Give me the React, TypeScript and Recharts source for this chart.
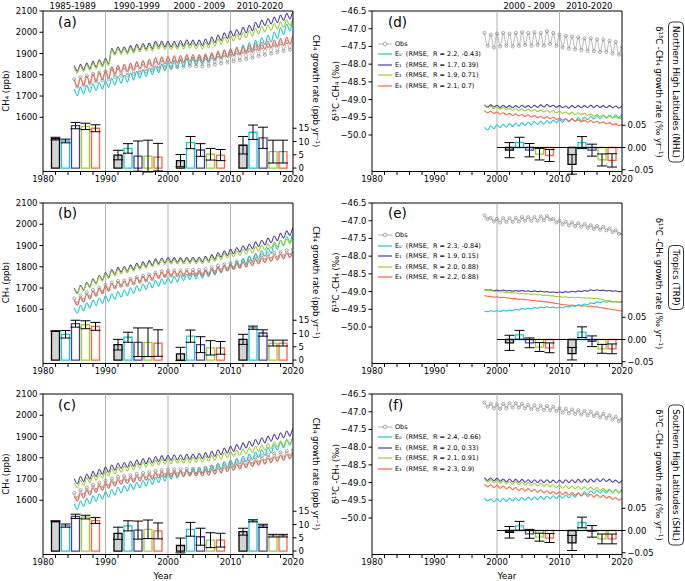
import React from 'react';
import { ComposedChart, Line, Bar, Cell, ErrorBar, XAxis, YAxis, ReferenceLine, Legend } from 'recharts';

const FONT = 'DejaVu Sans, sans-serif';
const COLORS = ['#9b9b9b', '#1fc7cf', '#4b3d9c', '#9acd32', '#ff6347'];
const KEYS = ['obs', 'e0', 'e1', 'e2', 'e3'];

// time axes (peak at t, trough at t + 0.5)
const ch4Years = [1985, 1986, 1987, 1988, 1989, 1990, 1991, 1992, 1993, 1994, 1995, 1996, 1997, 1998, 1999, 2000, 2001, 2002, 2003, 2004, 2005, 2006, 2007, 2008, 2009, 2010, 2011, 2012, 2013, 2014, 2015, 2016, 2017, 2018, 2019, 2020];
const d13Years = [1998, 1999, 2000, 2001, 2002, 2003, 2004, 2005, 2006, 2007, 2008, 2009, 2010, 2011, 2012, 2013, 2014, 2015, 2016, 2017, 2018, 2019, 2020];
const xTicks = [1980, 1982, 1984, 1986, 1988, 1990, 1992, 1994, 1996, 1998, 2000, 2002, 2004, 2006, 2008, 2010, 2012, 2014, 2016, 2018, 2020];
const ch4Ticks = [1600, 1700, 1800, 1900, 2000, 2100];
const rateTicks = [0, 5, 10, 15];
const d13Ticks = [-50.0, -49.5, -49.0, -48.5, -48.0, -47.5, -47.0, -46.5];
const d13RateTicks = [-0.05, 0, 0.05];

// (a) NHL CH4, ppb
const aObsHi = [1780, 1788, 1796, 1804, 1810, 1816, 1826, 1832, 1834, 1840, 1846, 1852, 1858, 1866, 1870, 1870, 1872, 1874, 1878, 1876, 1876, 1878, 1884, 1890, 1894, 1900, 1904, 1910, 1916, 1924, 1930, 1936, 1942, 1948, 1954, 1958];
const aObsLo = [1744, 1752, 1760, 1768, 1774, 1780, 1790, 1796, 1798, 1804, 1810, 1816, 1822, 1830, 1834, 1834, 1836, 1838, 1842, 1840, 1840, 1842, 1848, 1854, 1858, 1864, 1868, 1874, 1880, 1888, 1894, 1900, 1906, 1912, 1918, 1922];
const aE0Hi = [1734, 1742, 1750, 1758, 1764, 1772, 1784, 1792, 1798, 1808, 1816, 1824, 1832, 1842, 1850, 1858, 1864, 1870, 1876, 1880, 1884, 1890, 1898, 1906, 1914, 1922, 1930, 1940, 1950, 1962, 1974, 1986, 2001, 2021, 2038, 2056];
const aE0Lo = [1702, 1710, 1718, 1726, 1732, 1740, 1752, 1760, 1766, 1776, 1784, 1792, 1800, 1810, 1818, 1826, 1832, 1838, 1844, 1848, 1852, 1858, 1866, 1874, 1882, 1890, 1898, 1908, 1918, 1930, 1942, 1954, 1969, 1989, 2006, 2024];
const aE1Hi = [1843, 1849, 1855, 1863, 1871, 1877, 1925, 1931, 1931, 1937, 1943, 1947, 1949, 1957, 1957, 1957, 1957, 1961, 1965, 1963, 1963, 1968, 1977, 1987, 1997, 2007, 2013, 2023, 2033, 2047, 2057, 2065, 2071, 2081, 2089, 2095];
const aE1Lo = [1817, 1823, 1829, 1837, 1845, 1851, 1899, 1905, 1905, 1911, 1917, 1921, 1923, 1931, 1931, 1931, 1931, 1935, 1939, 1937, 1937, 1942, 1951, 1961, 1971, 1981, 1987, 1997, 2007, 2021, 2031, 2039, 2045, 2055, 2063, 2069];
const aE2Hi = [1835, 1841, 1847, 1855, 1863, 1869, 1918, 1923, 1923, 1928, 1933, 1937, 1939, 1946, 1946, 1945, 1945, 1948, 1951, 1949, 1948, 1953, 1961, 1969, 1977, 1985, 1991, 1999, 2008, 2019, 2027, 2035, 2041, 2049, 2057, 2063];
const aE2Lo = [1809, 1815, 1821, 1829, 1837, 1843, 1892, 1897, 1897, 1902, 1907, 1911, 1913, 1920, 1920, 1919, 1919, 1922, 1925, 1923, 1922, 1927, 1935, 1943, 1951, 1959, 1965, 1973, 1982, 1993, 2001, 2009, 2015, 2023, 2031, 2037];
const aE3Hi = [1777, 1785, 1793, 1803, 1811, 1819, 1837, 1845, 1849, 1855, 1862, 1867, 1873, 1881, 1885, 1887, 1889, 1891, 1895, 1895, 1895, 1899, 1905, 1912, 1917, 1922, 1927, 1933, 1939, 1947, 1953, 1959, 1965, 1971, 1977, 1983];
const aE3Lo = [1743, 1751, 1759, 1769, 1777, 1785, 1803, 1811, 1815, 1821, 1828, 1833, 1839, 1847, 1851, 1853, 1855, 1857, 1861, 1861, 1861, 1865, 1871, 1878, 1883, 1888, 1893, 1899, 1905, 1913, 1919, 1925, 1931, 1937, 1943, 1949];

// (b) Tropics CH4, ppb
const bObsHi = [1651, 1665, 1679, 1691, 1703, 1715, 1725, 1733, 1735, 1743, 1751, 1757, 1763, 1773, 1779, 1781, 1783, 1783, 1785, 1785, 1785, 1789, 1797, 1805, 1811, 1817, 1823, 1829, 1837, 1847, 1853, 1859, 1865, 1871, 1877, 1883];
const bObsLo = [1629, 1643, 1657, 1669, 1681, 1693, 1703, 1711, 1713, 1721, 1729, 1735, 1741, 1751, 1757, 1759, 1761, 1761, 1763, 1763, 1763, 1767, 1775, 1783, 1789, 1795, 1801, 1807, 1815, 1825, 1831, 1837, 1843, 1849, 1855, 1861];
const bE0Hi = [1608, 1619, 1631, 1643, 1653, 1663, 1673, 1683, 1691, 1701, 1711, 1719, 1727, 1735, 1743, 1749, 1755, 1761, 1765, 1769, 1773, 1779, 1787, 1797, 1807, 1817, 1827, 1839, 1851, 1863, 1875, 1889, 1908, 1925, 1941, 1955];
const bE0Lo = [1582, 1593, 1605, 1617, 1627, 1637, 1647, 1657, 1665, 1675, 1685, 1693, 1701, 1709, 1717, 1723, 1729, 1735, 1739, 1743, 1747, 1753, 1761, 1771, 1781, 1791, 1801, 1813, 1825, 1837, 1849, 1863, 1882, 1899, 1915, 1929];
const bE1Hi = [1699, 1713, 1727, 1743, 1759, 1773, 1787, 1797, 1801, 1809, 1817, 1823, 1829, 1837, 1841, 1843, 1843, 1843, 1845, 1845, 1845, 1849, 1857, 1867, 1875, 1883, 1891, 1899, 1907, 1917, 1925, 1935, 1945, 1957, 1969, 1983];
const bE1Lo = [1677, 1691, 1705, 1721, 1737, 1751, 1765, 1775, 1779, 1787, 1795, 1801, 1807, 1815, 1819, 1821, 1821, 1821, 1823, 1823, 1823, 1827, 1835, 1845, 1853, 1861, 1869, 1877, 1885, 1895, 1903, 1913, 1923, 1935, 1947, 1961];
const bE2Hi = [1695, 1709, 1723, 1739, 1755, 1767, 1779, 1789, 1793, 1801, 1809, 1815, 1821, 1829, 1833, 1835, 1835, 1835, 1837, 1837, 1837, 1841, 1847, 1855, 1863, 1869, 1875, 1881, 1887, 1895, 1901, 1909, 1917, 1925, 1931, 1937];
const bE2Lo = [1673, 1687, 1701, 1717, 1733, 1745, 1757, 1767, 1771, 1779, 1787, 1793, 1799, 1807, 1811, 1813, 1813, 1813, 1815, 1815, 1815, 1819, 1825, 1833, 1841, 1847, 1853, 1859, 1865, 1873, 1879, 1887, 1895, 1903, 1909, 1915];
const bE3Hi = [1641, 1656, 1671, 1685, 1697, 1709, 1721, 1729, 1733, 1741, 1749, 1755, 1761, 1769, 1775, 1777, 1779, 1779, 1781, 1781, 1781, 1785, 1791, 1797, 1803, 1809, 1815, 1821, 1827, 1835, 1841, 1847, 1853, 1859, 1865, 1871];
const bE3Lo = [1619, 1634, 1649, 1663, 1675, 1687, 1699, 1707, 1711, 1719, 1727, 1733, 1739, 1747, 1753, 1755, 1757, 1757, 1759, 1759, 1759, 1763, 1769, 1775, 1781, 1787, 1793, 1799, 1805, 1813, 1819, 1825, 1831, 1837, 1843, 1849];

// (c) SHL CH4, ppb
const cObsHi = [1634, 1648, 1660, 1672, 1682, 1692, 1702, 1710, 1714, 1718, 1724, 1728, 1732, 1738, 1742, 1744, 1746, 1746, 1748, 1748, 1748, 1752, 1758, 1764, 1770, 1776, 1782, 1788, 1794, 1802, 1808, 1814, 1820, 1826, 1832, 1838];
const cObsLo = [1610, 1624, 1636, 1648, 1658, 1668, 1678, 1686, 1690, 1694, 1700, 1704, 1708, 1714, 1718, 1720, 1722, 1722, 1724, 1724, 1724, 1728, 1734, 1740, 1746, 1752, 1758, 1764, 1770, 1778, 1784, 1790, 1796, 1802, 1808, 1814];
const cE0Hi = [1583, 1597, 1609, 1621, 1631, 1641, 1651, 1661, 1669, 1677, 1685, 1693, 1701, 1709, 1717, 1725, 1731, 1737, 1743, 1749, 1753, 1759, 1765, 1773, 1781, 1789, 1797, 1807, 1817, 1827, 1837, 1849, 1861, 1873, 1885, 1899];
const cE0Lo = [1557, 1571, 1583, 1595, 1605, 1615, 1625, 1635, 1643, 1651, 1659, 1667, 1675, 1683, 1691, 1699, 1705, 1711, 1717, 1723, 1727, 1733, 1739, 1747, 1755, 1763, 1771, 1781, 1791, 1801, 1811, 1823, 1835, 1847, 1859, 1873];
const cE1Hi = [1702, 1712, 1724, 1736, 1746, 1756, 1766, 1774, 1778, 1784, 1790, 1796, 1800, 1806, 1810, 1812, 1814, 1814, 1816, 1818, 1820, 1824, 1830, 1838, 1846, 1854, 1862, 1870, 1878, 1886, 1894, 1902, 1910, 1918, 1926, 1936];
const cE1Lo = [1678, 1688, 1700, 1712, 1722, 1732, 1742, 1750, 1754, 1760, 1766, 1772, 1776, 1782, 1786, 1788, 1790, 1790, 1792, 1794, 1796, 1800, 1806, 1814, 1822, 1830, 1838, 1846, 1854, 1862, 1870, 1878, 1886, 1894, 1902, 1912];
const cE2Hi = [1682, 1694, 1706, 1718, 1728, 1738, 1748, 1756, 1762, 1768, 1774, 1780, 1784, 1790, 1794, 1796, 1798, 1798, 1800, 1802, 1804, 1808, 1812, 1818, 1824, 1830, 1836, 1842, 1848, 1854, 1860, 1867, 1874, 1880, 1886, 1894];
const cE2Lo = [1658, 1670, 1682, 1694, 1704, 1714, 1724, 1732, 1738, 1744, 1750, 1756, 1760, 1766, 1770, 1772, 1774, 1774, 1776, 1778, 1780, 1784, 1788, 1794, 1800, 1806, 1812, 1818, 1824, 1830, 1836, 1843, 1850, 1856, 1862, 1870];
const cE3Hi = [1620, 1634, 1648, 1660, 1670, 1680, 1690, 1698, 1702, 1708, 1714, 1718, 1722, 1728, 1732, 1734, 1736, 1736, 1738, 1738, 1738, 1742, 1746, 1752, 1758, 1764, 1770, 1776, 1782, 1788, 1794, 1800, 1806, 1812, 1818, 1824];
const cE3Lo = [1596, 1610, 1624, 1636, 1646, 1656, 1666, 1674, 1678, 1684, 1690, 1694, 1698, 1704, 1708, 1710, 1712, 1712, 1714, 1714, 1714, 1718, 1722, 1728, 1734, 1740, 1746, 1752, 1758, 1764, 1770, 1776, 1782, 1788, 1794, 1800];

// (d) NHL d13C-CH4, permil
const dObsHi = [-47.12, -47.17, -47.14, -47.12, -47.14, -47.12, -47.10, -47.12, -47.10, -47.12, -47.07, -47.12, -47.17, -47.20, -47.22, -47.24, -47.27, -47.27, -47.30, -47.30, -47.34, -47.37, -47.52];
const dObsLo = [-47.48, -47.53, -47.50, -47.48, -47.50, -47.48, -47.46, -47.48, -47.46, -47.48, -47.43, -47.48, -47.53, -47.56, -47.58, -47.60, -47.63, -47.63, -47.66, -47.66, -47.70, -47.73, -47.88];
const dE0Hi = [-49.78, -49.74, -49.71, -49.70, -49.68, -49.67, -49.65, -49.64, -49.62, -49.61, -49.59, -49.58, -49.56, -49.55, -49.53, -49.51, -49.49, -49.47, -49.46, -49.44, -49.44, -49.43, -49.42];
const dE0Lo = [-49.86, -49.82, -49.79, -49.78, -49.76, -49.75, -49.73, -49.72, -49.70, -49.69, -49.67, -49.66, -49.64, -49.63, -49.61, -49.59, -49.57, -49.55, -49.54, -49.52, -49.52, -49.51, -49.50];
const dE1Hi = [-49.15, -49.15, -49.16, -49.16, -49.17, -49.17, -49.16, -49.17, -49.16, -49.15, -49.14, -49.16, -49.17, -49.18, -49.17, -49.17, -49.17, -49.16, -49.16, -49.17, -49.17, -49.18, -49.19];
const dE1Lo = [-49.21, -49.21, -49.22, -49.22, -49.23, -49.23, -49.22, -49.23, -49.22, -49.21, -49.20, -49.22, -49.23, -49.24, -49.23, -49.23, -49.23, -49.22, -49.22, -49.23, -49.23, -49.24, -49.25];
const dE2Hi = [-49.17, -49.19, -49.21, -49.22, -49.24, -49.25, -49.26, -49.27, -49.28, -49.29, -49.30, -49.31, -49.33, -49.35, -49.36, -49.37, -49.39, -49.41, -49.42, -49.44, -49.46, -49.48, -49.51];
const dE2Lo = [-49.23, -49.25, -49.27, -49.28, -49.30, -49.31, -49.32, -49.33, -49.34, -49.35, -49.36, -49.37, -49.39, -49.41, -49.42, -49.43, -49.45, -49.47, -49.48, -49.50, -49.52, -49.54, -49.57];
const dE3Hi = [-49.31, -49.33, -49.35, -49.37, -49.39, -49.40, -49.42, -49.43, -49.45, -49.47, -49.48, -49.50, -49.52, -49.54, -49.55, -49.57, -49.58, -49.59, -49.61, -49.63, -49.65, -49.68, -49.71];
const dE3Lo = [-49.37, -49.39, -49.41, -49.43, -49.45, -49.46, -49.48, -49.49, -49.51, -49.53, -49.54, -49.56, -49.58, -49.60, -49.61, -49.63, -49.64, -49.65, -49.67, -49.69, -49.71, -49.74, -49.77];

// (e) Tropics d13C-CH4, permil
const eObsHi = [-46.85, -46.92, -46.95, -46.93, -46.93, -46.92, -46.90, -46.90, -46.90, -46.88, -46.87, -46.95, -47.00, -47.03, -47.05, -47.07, -47.10, -47.13, -47.15, -47.17, -47.22, -47.27, -47.37];
const eObsLo = [-46.95, -47.02, -47.05, -47.03, -47.03, -47.02, -47.00, -47.00, -47.00, -46.98, -46.97, -47.05, -47.10, -47.13, -47.15, -47.17, -47.20, -47.23, -47.25, -47.27, -47.32, -47.37, -47.47];
const eE0Hi = [-49.55, -49.54, -49.54, -49.53, -49.52, -49.50, -49.48, -49.47, -49.45, -49.44, -49.43, -49.44, -49.44, -49.42, -49.40, -49.37, -49.35, -49.32, -49.29, -49.28, -49.28, -49.28, -49.28];
const eE0Lo = [-49.57, -49.56, -49.56, -49.55, -49.54, -49.52, -49.50, -49.49, -49.47, -49.46, -49.45, -49.46, -49.46, -49.44, -49.42, -49.39, -49.37, -49.34, -49.31, -49.30, -49.30, -49.30, -49.30];
const eE1Hi = [-48.94, -48.95, -48.96, -48.96, -48.97, -48.97, -48.97, -48.98, -48.98, -48.99, -49.00, -49.01, -49.01, -49.00, -48.99, -48.98, -48.97, -48.95, -48.95, -48.96, -48.97, -48.98, -48.99];
const eE1Lo = [-48.96, -48.97, -48.98, -48.98, -48.99, -48.99, -48.99, -49.00, -49.00, -49.01, -49.02, -49.03, -49.03, -49.02, -49.01, -49.00, -48.99, -48.97, -48.97, -48.98, -48.99, -49.00, -49.01];
const eE2Hi = [-48.95, -48.97, -48.99, -49.01, -49.02, -49.04, -49.05, -49.06, -49.07, -49.09, -49.10, -49.12, -49.14, -49.15, -49.16, -49.16, -49.17, -49.18, -49.19, -49.23, -49.26, -49.29, -49.31];
const eE2Lo = [-48.97, -48.99, -49.01, -49.03, -49.04, -49.06, -49.07, -49.08, -49.09, -49.11, -49.12, -49.14, -49.16, -49.17, -49.18, -49.18, -49.19, -49.20, -49.21, -49.25, -49.28, -49.31, -49.33];
const eE3Hi = [-49.11, -49.14, -49.15, -49.16, -49.18, -49.20, -49.21, -49.23, -49.25, -49.27, -49.29, -49.32, -49.35, -49.37, -49.38, -49.39, -49.40, -49.41, -49.43, -49.46, -49.49, -49.52, -49.54];
const eE3Lo = [-49.13, -49.16, -49.17, -49.18, -49.20, -49.22, -49.23, -49.25, -49.27, -49.29, -49.31, -49.34, -49.37, -49.39, -49.40, -49.41, -49.42, -49.43, -49.45, -49.48, -49.51, -49.54, -49.56];

// (f) SHL d13C-CH4, permil
const fObsHi = [-46.74, -46.78, -46.80, -46.78, -46.76, -46.76, -46.78, -46.81, -46.82, -46.83, -46.84, -46.86, -46.90, -46.92, -46.94, -46.96, -46.98, -47.00, -47.04, -47.06, -47.10, -47.14, -47.20];
const fObsLo = [-46.86, -46.90, -46.92, -46.90, -46.88, -46.88, -46.90, -46.93, -46.94, -46.95, -46.96, -46.98, -47.02, -47.04, -47.06, -47.08, -47.10, -47.12, -47.16, -47.18, -47.22, -47.26, -47.32];
const fE0Hi = [-49.44, -49.46, -49.46, -49.45, -49.44, -49.43, -49.42, -49.41, -49.40, -49.39, -49.38, -49.37, -49.36, -49.35, -49.33, -49.30, -49.26, -49.23, -49.22, -49.21, -49.21, -49.20, -49.20];
const fE0Lo = [-49.52, -49.54, -49.54, -49.53, -49.52, -49.51, -49.50, -49.49, -49.48, -49.47, -49.46, -49.45, -49.44, -49.43, -49.41, -49.38, -49.34, -49.31, -49.30, -49.29, -49.29, -49.28, -49.28];
const fE1Hi = [-48.86, -48.87, -48.88, -48.90, -48.90, -48.91, -48.91, -48.92, -48.92, -48.92, -48.92, -48.93, -48.93, -48.92, -48.92, -48.91, -48.91, -48.90, -48.89, -48.89, -48.91, -48.93, -48.95];
const fE1Lo = [-48.94, -48.95, -48.96, -48.98, -48.98, -48.99, -48.99, -49.00, -49.00, -49.00, -49.00, -49.01, -49.01, -49.00, -49.00, -48.99, -48.99, -48.98, -48.97, -48.97, -48.99, -49.01, -49.03];
const fE2Hi = [-48.90, -48.92, -48.94, -48.95, -48.97, -48.98, -48.99, -49.00, -49.01, -49.02, -49.04, -49.06, -49.08, -49.09, -49.10, -49.11, -49.12, -49.13, -49.14, -49.16, -49.19, -49.21, -49.23];
const fE2Lo = [-48.98, -49.00, -49.02, -49.03, -49.05, -49.06, -49.07, -49.08, -49.09, -49.10, -49.12, -49.14, -49.16, -49.17, -49.18, -49.19, -49.20, -49.21, -49.22, -49.24, -49.27, -49.29, -49.31];
const fE3Hi = [-49.04, -49.06, -49.08, -49.10, -49.12, -49.14, -49.16, -49.17, -49.19, -49.21, -49.23, -49.25, -49.26, -49.27, -49.28, -49.29, -49.31, -49.33, -49.34, -49.36, -49.39, -49.42, -49.45];
const fE3Lo = [-49.12, -49.14, -49.16, -49.18, -49.20, -49.22, -49.24, -49.25, -49.27, -49.29, -49.31, -49.33, -49.34, -49.35, -49.36, -49.37, -49.39, -49.41, -49.42, -49.44, -49.47, -49.50, -49.53];

// decadal growth-rate bars: Obs, E0, E1, E2, E3
const barSlots = [
  [1982, 1983.6, 1985.2, 1986.8, 1988.4],
  [1992, 1993.6, 1995.2, 1996.8, 1998.4],
  [2002, 2003.6, 2005.2, 2006.8, 2008.4],
  [2012, 2013.6, 2015.2, 2016.8, 2018.4],
];
const aRate = [[11.1, 10.2, 16.0, 15.7, 15.0], [4.9, 7.4, 4.5, 4.5, 4.1], [2.8, 9.6, 6.8, 5.2, 4.9], [8.6, 13.5, 11.4, 6.2, 6.2]];
const aRateErr = [[0.5, 0.7, 1.2, 1.2, 1.3], [1.8, 1.8, 5.7, 6.0, 5.2], [2.3, 2.3, 2.4, 2.2, 2.1], [3.3, 2.7, 4.0, 4.3, 4.3]];
const bRate = [[10.9, 9.7, 13.7, 13.3, 12.7], [5.8, 8.6, 6.7, 6.7, 6.4], [2.3, 9.0, 5.8, 4.6, 4.6], [7.8, 12.2, 10.2, 6.4, 6.4]];
const bRateErr = [[0.1, 1.4, 1.3, 1.5, 1.5], [2.0, 1.9, 5.4, 5.4, 5.0], [2.5, 2.3, 3.0, 2.7, 2.4], [1.9, 0.6, 1.2, 1.1, 1.1]];
const cRate = [[11.2, 9.6, 13.1, 12.8, 11.5], [6.7, 9.5, 7.9, 8.2, 7.6], [2.1, 8.2, 5.4, 4.1, 4.1], [7.3, 11.4, 9.5, 5.8, 5.8]];
const cRateErr = [[0.2, 0.6, 0.8, 0.7, 1.1], [2.3, 1.9, 3.4, 3.5, 3.0], [2.8, 2.6, 3.2, 2.8, 2.6], [1.3, 0.4, 0.6, 0.5, 0.5]];
const dRate = [[-0.006, 0.0115, -0.006, -0.015, -0.018], [-0.038, 0.011, -0.006, -0.028, -0.029]];
const dRateErr = [[0.017, 0.0115, 0.015, 0.013, 0.0135], [0.022, 0.0135, 0.0135, 0.0135, 0.015]];
const eRate = [[-0.0075, 0.0105, -0.0075, -0.017, -0.0187], [-0.032, 0.0164, -0.004, -0.021, -0.021]];
const eRateErr = [[0.017, 0.01, 0.011, 0.01, 0.011], [0.014, 0.012, 0.012, 0.01, 0.011]];
const fRate = [[-0.004, 0.0105, -0.0075, -0.015, -0.017], [-0.028, 0.018, -0.002, -0.019, -0.019]];
const fRateErr = [[0.013, 0.01, 0.01, 0.009, 0.01], [0.017, 0.012, 0.013, 0.011, 0.011]];

const dLegend = ['E\u2080  (RMSE,  R = 2.2, -0.43)', 'E\u2081  (RMSE,  R = 1.7, 0.39)', 'E\u2082  (RMSE,  R = 1.9, 0.71)', 'E\u2083  (RMSE,  R = 2.1, 0.7)'];
const eLegend = ['E\u2080  (RMSE,  R = 2.3, -0.84)', 'E\u2081  (RMSE,  R = 1.9, 0.15)', 'E\u2082  (RMSE,  R = 2.0, 0.88)', 'E\u2083  (RMSE,  R = 2.2, 0.88)'];
const fLegend = ['E\u2080  (RMSE,  R = 2.4, -0.66)', 'E\u2081  (RMSE,  R = 2.0, 0.33)', 'E\u2082  (RMSE,  R = 2.1, 0.91)', 'E\u2083  (RMSE,  R = 2.3, 0.9)'];

type Row = Record<string, number>;

function zigzag(years: number[], series: Record<string, number[][]>): Row[] {
  const rows: Row[] = [];
  years.forEach((y, i) => {
    const peak: Row = { t: y };
    const trough: Row = { t: y + 0.5 };
    Object.keys(series).forEach((k) => {
      peak[k] = series[k][0][i];
      trough[k] = series[k][1][i];
    });
    rows.push(peak, trough);
  });
  return rows;
}

function barRows(slots: number[][], vals: number[][], errs: number[][]): Row[] {
  const rows: Row[] = [];
  vals.forEach((g, gi) => g.forEach((v, k) => rows.push({ t: slots[gi][k], v, err: errs[gi][k], kind: k })));
  return rows;
}

const aLines = zigzag(ch4Years, { obs: [aObsHi, aObsLo], e0: [aE0Hi, aE0Lo], e1: [aE1Hi, aE1Lo], e2: [aE2Hi, aE2Lo], e3: [aE3Hi, aE3Lo] });
const bLines = zigzag(ch4Years, { obs: [bObsHi, bObsLo], e0: [bE0Hi, bE0Lo], e1: [bE1Hi, bE1Lo], e2: [bE2Hi, bE2Lo], e3: [bE3Hi, bE3Lo] });
const cLines = zigzag(ch4Years, { obs: [cObsHi, cObsLo], e0: [cE0Hi, cE0Lo], e1: [cE1Hi, cE1Lo], e2: [cE2Hi, cE2Lo], e3: [cE3Hi, cE3Lo] });
const dLines = zigzag(d13Years, { obs: [dObsHi, dObsLo], e0: [dE0Hi, dE0Lo], e1: [dE1Hi, dE1Lo], e2: [dE2Hi, dE2Lo], e3: [dE3Hi, dE3Lo] });
const eLines = zigzag(d13Years, { obs: [eObsHi, eObsLo], e0: [eE0Hi, eE0Lo], e1: [eE1Hi, eE1Lo], e2: [eE2Hi, eE2Lo], e3: [eE3Hi, eE3Lo] });
const fLines = zigzag(d13Years, { obs: [fObsHi, fObsLo], e0: [fE0Hi, fE0Lo], e1: [fE1Hi, fE1Lo], e2: [fE2Hi, fE2Lo], e3: [fE3Hi, fE3Lo] });

const aBars = barRows(barSlots, aRate, aRateErr);
const bBars = barRows(barSlots, bRate, bRateErr);
const cBars = barRows(barSlots, cRate, cRateErr);
const dBars = barRows(barSlots.slice(2), dRate, dRateErr);
const eBars = barRows(barSlots.slice(2), eRate, eRateErr);
const fBars = barRows(barSlots.slice(2), fRate, fRateErr);

const PLOT_H = 160.5;
const TOP_M = 6;
const X_H = 22;
const tickStyle = { fontSize: 8.5, fill: '#000', fontFamily: FONT };
const minus = (s: string) => s.replace('-', '\u2212');

function seriesLines(rows: Row[], yAxisId: string) {
  return KEYS.map((k, i) => (
    <Line
      key={k}
      data={rows}
      dataKey={k}
      xAxisId="line"
      yAxisId={yAxisId}
      type="monotone"
      stroke={COLORS[i]}
      strokeWidth={i === 0 ? 0.7 : 1.1}
      dot={i === 0 ? { r: 1.6, stroke: '#8a8a8a', strokeWidth: 0.7, fill: 'none' } : false}
      isAnimationActive={false}
    />
  ));
}

function rateBars(rows: Row[]) {
  return (
    <Bar xAxisId="bar" yAxisId="gr" dataKey="v" barSize={8} isAnimationActive={false}>
      {rows.map((r, i) => (
        <Cell
          key={i}
          fill={r.kind === 0 ? '#d3d3d3' : 'none'}
          stroke={r.kind === 0 ? '#000' : COLORS[r.kind]}
          strokeWidth={1.3}
        />
      ))}
      <ErrorBar dataKey="err" width={5} strokeWidth={1} stroke="#000" direction="y" />
    </Bar>
  );
}

function ChartFrame({ left, top, bars, children }: { left: number; top: number; bars: Row[]; children: React.ReactNode }) {
  return (
    <div style={{ position: 'absolute', left, top: top - TOP_M }}>
      <ComposedChart width={330} height={TOP_M + PLOT_H + X_H} data={bars} margin={{ top: TOP_M, right: 0, bottom: 0, left: 0 }}>
        <XAxis xAxisId="bar" dataKey="t" type="number" domain={[1980, 2020]} allowDataOverflow hide height={0} />
        <XAxis
          xAxisId="line"
          dataKey="t"
          type="number"
          domain={[1980, 2020]}
          allowDataOverflow
          ticks={xTicks}
          interval={0}
          tickFormatter={(v: number) => (v % 10 === 0 ? String(v) : '')}
          height={X_H}
          tick={tickStyle}
          tickSize={3.5}
          tickMargin={1}
          tickLine={{ stroke: '#000' }}
          axisLine={{ stroke: '#000' }}
        />
        {children}
      </ComposedChart>
    </div>
  );
}

function Ch4Panel({ top, lines, bars }: { top: number; lines: Row[]; bars: Row[] }) {
  return (
    <ChartFrame left={0} top={top} bars={bars}>
      <YAxis
        yAxisId="ch4"
        type="number"
        domain={[1345, 2100]}
        allowDataOverflow
        ticks={ch4Ticks}
        interval={0}
        width={43}
        tick={tickStyle}
        tickSize={3.5}
        tickMargin={2}
        tickLine={{ stroke: '#000' }}
        axisLine={{ stroke: '#000' }}
      />
      <YAxis
        yAxisId="gr"
        orientation="right"
        type="number"
        domain={[-1.3, 59.2]}
        allowDataOverflow
        ticks={rateTicks}
        interval={0}
        width={37}
        tick={tickStyle}
        tickSize={3.5}
        tickMargin={2}
        tickLine={{ stroke: '#000' }}
        axisLine={{ stroke: '#000' }}
      />
      <ReferenceLine xAxisId="line" yAxisId="ch4" y={2100} stroke="#000" />
      {[1990, 2000, 2010].map((x) => (
        <ReferenceLine key={x} xAxisId="line" yAxisId="ch4" x={x} stroke="#b0b0b0" />
      ))}
      {rateBars(bars)}
      {seriesLines(lines, 'ch4')}
    </ChartFrame>
  );
}

function LegendBox({ labels }: { labels: string[] }) {
  const rows = ['Obs', ...labels];
  return (
    <div style={{ fontFamily: FONT, fontSize: 6.5, color: '#000' }}>
      {rows.map((txt, i) => (
        <div key={txt} style={{ display: 'flex', alignItems: 'center', height: 10.6, whiteSpace: 'pre' }}>
          <svg width={14} height={8} style={{ marginRight: 3 }}>
            <line x1={0} x2={14} y1={4} y2={4} stroke={COLORS[i]} strokeWidth={i === 0 ? 0.8 : 1.2} />
            {i === 0 && <circle cx={7} cy={4} r={1.8} stroke="#8a8a8a" strokeWidth={0.7} fill="#fff" />}
          </svg>
          <span>{txt}</span>
        </div>
      ))}
    </div>
  );
}

function D13Panel({ top, lines, bars, labels }: { top: number; lines: Row[]; bars: Row[]; labels: string[] }) {
  return (
    <ChartFrame left={330} top={top} bars={bars}>
      <YAxis
        yAxisId="d13"
        type="number"
        domain={[-51.03, -46.5]}
        allowDataOverflow
        ticks={d13Ticks}
        interval={0}
        width={42}
        tickFormatter={(v: number) => minus(v.toFixed(1))}
        tick={tickStyle}
        tickSize={3.5}
        tickMargin={2}
        tickLine={{ stroke: '#000' }}
        axisLine={{ stroke: '#000' }}
      />
      <YAxis
        yAxisId="gr"
        orientation="right"
        type="number"
        domain={[-0.054, 0.307]}
        allowDataOverflow
        ticks={d13RateTicks}
        interval={0}
        width={38}
        tickFormatter={(v: number) => minus(v.toFixed(2))}
        tick={tickStyle}
        tickSize={3.5}
        tickMargin={2}
        tickLine={{ stroke: '#000' }}
        axisLine={{ stroke: '#000' }}
      />
      <ReferenceLine xAxisId="line" yAxisId="d13" y={-46.5} stroke="#000" />
      {[2000, 2010].map((x) => (
        <ReferenceLine key={x} xAxisId="line" yAxisId="d13" x={x} stroke="#b0b0b0" />
      ))}
      <ReferenceLine
        xAxisId="line"
        yAxisId="gr"
        segment={[{ x: 2000, y: 0 }, { x: 2020, y: 0 }]}
        stroke="#000"
      />
      {rateBars(bars)}
      {seriesLines(lines, 'd13')}
      <Legend
        layout="horizontal"
        align="center"
        verticalAlign="middle"
        content={() => <LegendBox labels={labels} />}
        wrapperStyle={{ left: 48, top: 33.3, width: 'auto', height: 'auto' }}
      />
    </ChartFrame>
  );
}

const periodLabels = [
  { x: 72.7, text: '1985-1989' },
  { x: 136.7, text: '1990-1999' },
  { x: 199.3, text: '2000 - 2009' },
  { x: 260, text: '2010-2020' },
  { x: 529.3, text: '2000 - 2009' },
  { x: 589.3, text: '2010-2020' },
];
const panelTops = [11, 202.5, 394];
const leftLetters = ['(a)', '(b)', '(c)'];
const rightLetters = ['(d)', '(e)', '(f)'];
const regions = [
  { text: 'Northern High Latitudes (NHL)', h: 140 },
  { text: 'Tropics (TRP)', h: 64 },
  { text: 'Southern High Latitudes (SHL)', h: 140 },
];

function VText({ x, y, angle, size = 8.5, children }: { x: number; y: number; angle: number; size?: number; children: React.ReactNode }) {
  return (
    <text
      x={x}
      y={y}
      transform={`rotate(${angle} ${x} ${y})`}
      textAnchor="middle"
      dominantBaseline="central"
      fontSize={size}
      fontFamily={FONT}
      fill="#000"
    >
      {children}
    </text>
  );
}

export default function App() {
  return (
    <div style={{ position: 'absolute', left: 0, top: 0, width: 685, height: 581, background: '#fff', overflow: 'hidden' }}>
      <Ch4Panel top={panelTops[0]} lines={aLines} bars={aBars} />
      <Ch4Panel top={panelTops[1]} lines={bLines} bars={bBars} />
      <Ch4Panel top={panelTops[2]} lines={cLines} bars={cBars} />
      <D13Panel top={panelTops[0]} lines={dLines} bars={dBars} labels={dLegend} />
      <D13Panel top={panelTops[1]} lines={eLines} bars={eBars} labels={eLegend} />
      <D13Panel top={panelTops[2]} lines={fLines} bars={fBars} labels={fLegend} />
      <svg width={685} height={581} style={{ position: 'absolute', left: 0, top: 0, pointerEvents: 'none' }}>
        {periodLabels.map((p, i) => (
          <text key={i} x={p.x} y={8.5} textAnchor="middle" fontSize={8.5} fontFamily={FONT} fill="#000">
            {p.text}
          </text>
        ))}
        {panelTops.map((t, i) => (
          <g key={i}>
            <text x={58} y={t + 15.5} fontSize={13.5} fontFamily={FONT} fill="#000">{leftLetters[i]}</text>
            <text x={388} y={t + 15.5} fontSize={13.5} fontFamily={FONT} fill="#000">{rightLetters[i]}</text>
            <VText x={6} y={t + 80} angle={-90}>CH₄ (ppb)</VText>
            <VText x={316} y={t + 80} angle={90}>CH₄ growth rate (ppb yr⁻¹)</VText>
            <VText x={336} y={t + 80} angle={-90}>δ¹³C -CH₄ (‰)</VText>
            <VText x={659} y={t + 81} angle={90}>δ¹³C -CH₄ growth rate (‰ yr⁻¹)</VText>
            <rect
              x={668.5}
              y={t + (i === 1 ? 75 : 81) - regions[i].h / 2}
              width={15}
              height={regions[i].h}
              rx={4}
              fill="#fff"
              stroke="#000"
              strokeWidth={0.8}
            />
            <VText x={676} y={t + (i === 1 ? 75 : 81)} angle={90} size={8.7}>{regions[i].text}</VText>
          </g>
        ))}
        <text x={163} y={579} textAnchor="middle" fontSize={9} fontFamily={FONT} fill="#000">Year</text>
        <text x={507} y={579} textAnchor="middle" fontSize={9} fontFamily={FONT} fill="#000">Year</text>
      </svg>
    </div>
  );
}
